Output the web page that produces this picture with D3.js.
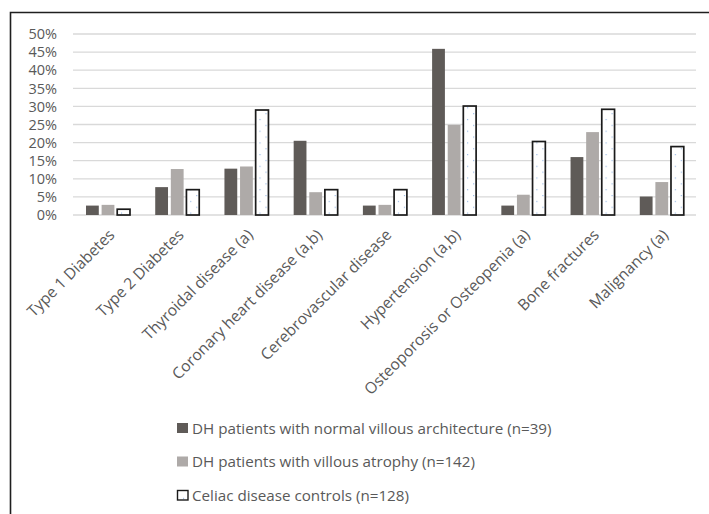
<!DOCTYPE html>
<html>
<head>
<meta charset="utf-8">
<script src="https://cdn.jsdelivr.net/npm/d3@7"></script>
<style>
  html, body { margin: 0; padding: 0; background: #fff; }
  svg { display: block; }
  text { font-family: "Open Sans", Lato, sans-serif; fill: #595959; }
</style>
</head>
<body>
<svg id="chart" width="709" height="514"></svg>
<script>
// Comorbidity prevalence per group
const categories = [
  "Type 1 Diabetes",
  "Type 2 Diabetes",
  "Thyroidal disease (a)",
  "Coronary heart disease (a,b)",
  "Cerebrovascular disease",
  "Hypertension (a,b)",
  "Osteoporosis or Osteopenia (a)",
  "Bone fractures",
  "Malignancy (a)"
];
const seriesNames = [
  "DH patients with normal villous architecture (n=39)",
  "DH patients with villous atrophy (n=142)",
  "Celiac disease controls (n=128)"
];
const normalVillous = [2.6, 7.7, 12.8, 20.5, 2.6, 45.9, 2.6, 16.0, 5.1];
const villousAtrophy = [2.8, 12.7, 13.4, 6.3, 2.8, 24.9, 5.6, 22.9, 9.1];
const celiacControls = [1.6, 7.0, 29.0, 7.0, 7.0, 30.1, 20.3, 29.2, 18.9];
const yTicks = [0, 5, 10, 15, 20, 25, 30, 35, 40, 45, 50];

const seriesValues = [normalVillous, villousAtrophy, celiacControls];

const svg = d3.select("#chart");

// Outer frame (top and left edges)
svg.append("path")
  .attr("d", "M10.5,514 L10.5,12.5 L709,12.5")
  .attr("fill", "none")
  .attr("stroke", "#1f1f1f")
  .attr("stroke-width", 1.6);

// Dotted fill for the control bars
const defs = svg.append("defs");
const pat = defs.append("pattern")
  .attr("id", "dots")
  .attr("patternUnits", "userSpaceOnUse")
  .attr("width", 12)
  .attr("height", 11.7);
pat.append("rect").attr("width", 12).attr("height", 11.7).attr("fill", "#fff");
pat.append("rect").attr("x", 0).attr("y", 2).attr("width", 1.1).attr("height", 1.1).attr("fill", "#8fb3e3");
pat.append("rect").attr("x", 6).attr("y", 7.85).attr("width", 1.1).attr("height", 1.1).attr("fill", "#8fb3e3");

const x0 = d3.scaleBand().domain(categories).range([73, 696]).paddingInner(0).paddingOuter(0);
const x1 = d3.scaleBand().domain(d3.range(3)).range([13, 57]).paddingInner(0.18);
const y = d3.scaleLinear().domain([0, 50]).range([215, 34]);

// Gridlines
svg.append("g")
  .selectAll("line")
  .data(yTicks)
  .join("line")
  .attr("x1", 73)
  .attr("x2", 696)
  .attr("y1", d => y(d))
  .attr("y2", d => y(d))
  .attr("stroke", "#d9d9d9")
  .attr("stroke-width", 1.3);

// Y axis labels
svg.append("g")
  .selectAll("text")
  .data(yTicks)
  .join("text")
  .attr("x", 57)
  .attr("y", d => y(d))
  .attr("dy", "0.36em")
  .attr("text-anchor", "end")
  .style("font-size", "14.5px")
  .text(d => d + "%");

// Bars
const fills = ["#5f5b58", "#aeaaa8", "url(#dots)"];
const groups = svg.append("g")
  .selectAll("g")
  .data(categories)
  .join("g")
  .attr("transform", d => `translate(${x0(d)},0)`);

groups.selectAll("rect")
  .data((d, i) => seriesValues.map((vals, s) => ({ s, v: vals[i] })))
  .join("rect")
  .attr("x", d => x1(d.s))
  .attr("width", x1.bandwidth())
  .attr("y", d => y(d.v))
  .attr("height", d => y(0) - y(d.v))
  .attr("fill", d => fills[d.s])
  .attr("stroke", d => d.s === 2 ? "#1a1a1a" : "none")
  .attr("stroke-width", 1.7);

// Category labels, rotated
svg.append("g")
  .selectAll("text")
  .data(categories)
  .join("text")
  .attr("transform", d => `translate(${x0(d) + x0.bandwidth() / 2 + 4},${232}) rotate(-45)`)
  .attr("text-anchor", "end")
  .attr("dy", "0.35em")
  .style("font-size", "15.6px")
  .text(d => d);

// Legend
const legend = svg.append("g")
  .selectAll("g")
  .data(seriesNames)
  .join("g")
  .attr("transform", (d, i) => `translate(177,${423 + i * 33.5})`);

legend.append("rect")
  .attr("x", (d, i) => i === 2 ? 0.5 : 0)
  .attr("y", (d, i) => i === 2 ? 0.5 : 0)
  .attr("width", (d, i) => i === 2 ? 10.5 : 11)
  .attr("height", (d, i) => i === 2 ? 9.5 : 10)
  .attr("fill", (d, i) => fills[i])
  .attr("stroke", (d, i) => i === 2 ? "#1a1a1a" : "none")
  .attr("stroke-width", 1.4);

legend.append("text")
  .attr("x", 15)
  .attr("y", 10.5)
  .style("font-size", "15.2px")
  .text(d => d);
</script>
</body>
</html>
